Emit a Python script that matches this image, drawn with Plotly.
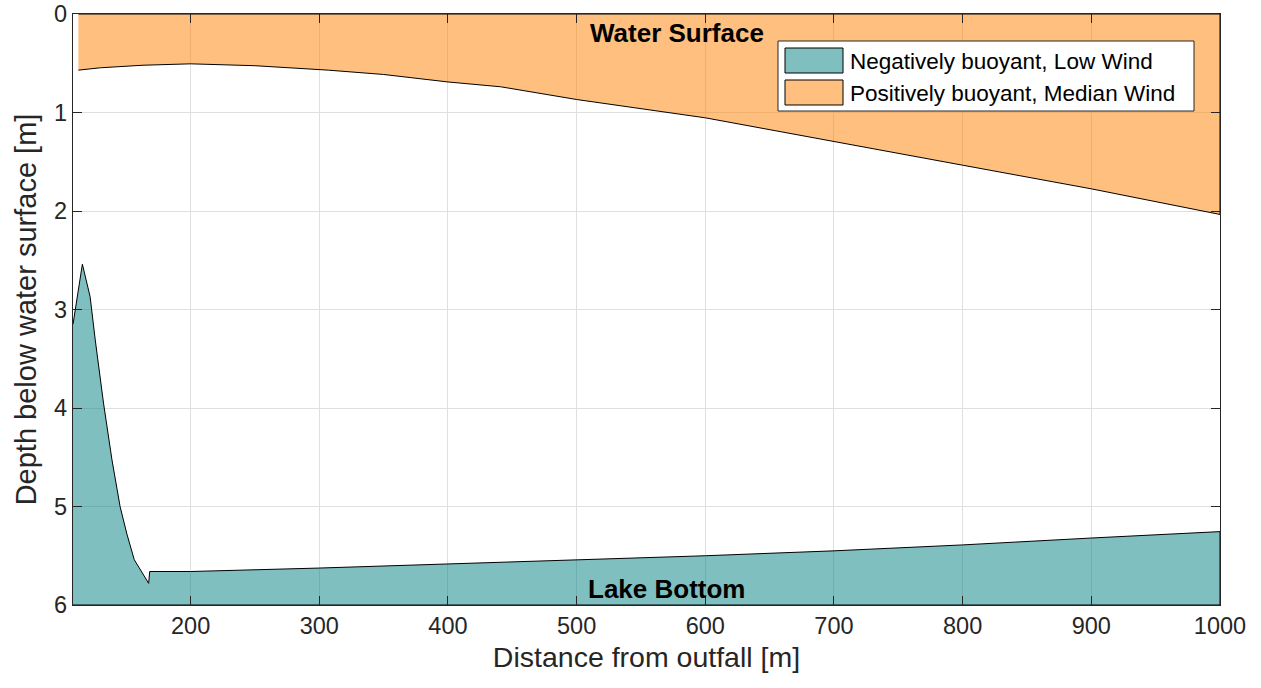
import plotly.graph_objects as go

# Depth limits of the water column [m]
SURFACE = 0.0
BOTTOM = 6.0
X_START, X_END = 108.6, 1000

# Negatively buoyant plume, low wind: upper edge of the plume, depth [m]
neg_x = [108.6, 115.9, 121.9, 125.8, 132.3, 138.8, 145.2, 150.5, 156.2, 167.4,
         168.2, 200, 300, 400, 500, 600, 700, 800, 900, 1000]
neg_depth = [3.15, 2.54, 2.87, 3.30, 3.95, 4.52, 5.00, 5.28, 5.54, 5.78,
             5.66, 5.66, 5.625, 5.585, 5.54, 5.50, 5.45, 5.39, 5.32, 5.255]

# Positively buoyant plume, median wind: lower edge of the plume, depth [m]
pos_x = [112.8, 130, 163, 200, 250, 307, 350, 400, 441, 500, 600, 700, 800,
         900, 1000]
pos_depth = [0.57, 0.546, 0.52, 0.506, 0.525, 0.57, 0.614, 0.69, 0.739, 0.868,
             1.054, 1.297, 1.535, 1.775, 2.035]

series_names = ["Negatively buoyant, Low Wind", "Positively buoyant, Median Wind"]
series_fills = ["rgba(0,128,128,0.5)", "rgba(255,128,0,0.5)"]

x_ticks = [200, 300, 400, 500, 600, 700, 800, 900, 1000]
y_ticks = [0, 1, 2, 3, 4, 5, 6]

FONT = "Liberation Sans, Arial, Helvetica, sans-serif"
AXIS_COLOR = "#262626"

W, H = 1261, 688
M_L, M_R, M_T, M_B = 73, 41, 14, 83
PW, PH = W - M_L - M_R, H - M_T - M_B


def px_x(p):
    """Horizontal pixel position -> paper fraction."""
    return (p - M_L) / PW


def px_y(p):
    """Vertical pixel position -> paper fraction."""
    return 1 - (p - M_T) / PH


fig = go.Figure()

# Plume above the lake bottom, closed along the bottom
fig.add_trace(go.Scatter(
    x=neg_x + [neg_x[-1], neg_x[0]],
    y=neg_depth + [BOTTOM, BOTTOM],
    mode="lines", fill="toself", fillcolor=series_fills[0],
    line=dict(color="black", width=1),
    name=series_names[0], showlegend=False,
))

# Plume below the water surface, closed along the surface
fig.add_trace(go.Scatter(
    x=pos_x + [pos_x[-1], pos_x[0]],
    y=pos_depth + [SURFACE, SURFACE],
    mode="lines", fill="toself", fillcolor=series_fills[1],
    line=dict(color="black", width=1),
    name=series_names[1], showlegend=False,
))

fig.add_annotation(x=578, y=0.19, xref="x", yref="y", showarrow=False,
                   text="<b>Water Surface</b>",
                   font=dict(family=FONT, size=26, color="black"))
fig.add_annotation(x=570, y=5.84, xref="x", yref="y", showarrow=False,
                   text="<b>Lake Bottom</b>",
                   font=dict(family=FONT, size=26, color="black"))

# Legend box with filled patches
fig.add_shape(type="rect", xref="paper", yref="paper",
              x0=px_x(778), x1=px_x(1194), y0=px_y(111), y1=px_y(41),
              fillcolor="white", line=dict(color=AXIS_COLOR, width=1),
              layer="above")
for i, (name, fill) in enumerate(zip(series_names, series_fills)):
    top = 48 + i * 32
    fig.add_shape(type="rect", xref="paper", yref="paper",
                  x0=px_x(785), x1=px_x(843), y0=px_y(top + 25), y1=px_y(top),
                  fillcolor=fill, line=dict(color="black", width=1),
                  layer="above")
    fig.add_annotation(x=px_x(848), y=px_y(top + 13), xref="paper",
                       yref="paper", xanchor="left", yanchor="middle",
                       showarrow=False, text=name,
                       font=dict(family=FONT, size=22.5, color="black"))

axis_common = dict(
    showline=True, linecolor=AXIS_COLOR, linewidth=1.3, mirror="allticks",
    ticks="inside", ticklen=9, tickwidth=1, tickcolor=AXIS_COLOR,
    showgrid=True, gridcolor="#dfdfdf", gridwidth=1, zeroline=False,
    tickfont=dict(family=FONT, size=23.5, color=AXIS_COLOR),
)

fig.update_xaxes(
    range=[X_START, X_END], tickvals=x_ticks,
    title=dict(text="Distance from outfall [m]", standoff=8,
               font=dict(family=FONT, size=28.5, color=AXIS_COLOR)),
    **axis_common,
)
fig.update_yaxes(
    range=[BOTTOM, SURFACE], tickvals=y_ticks,
    title=dict(text="Depth below water surface [m]", standoff=8,
               font=dict(family=FONT, size=29, color=AXIS_COLOR)),
    **axis_common,
)

fig.update_layout(
    width=W, height=H,
    margin=dict(l=M_L, r=M_R, t=M_T, b=M_B, autoexpand=False),
    plot_bgcolor="white", paper_bgcolor="white",
    showlegend=False,
)

fig.write_html("out.html")
